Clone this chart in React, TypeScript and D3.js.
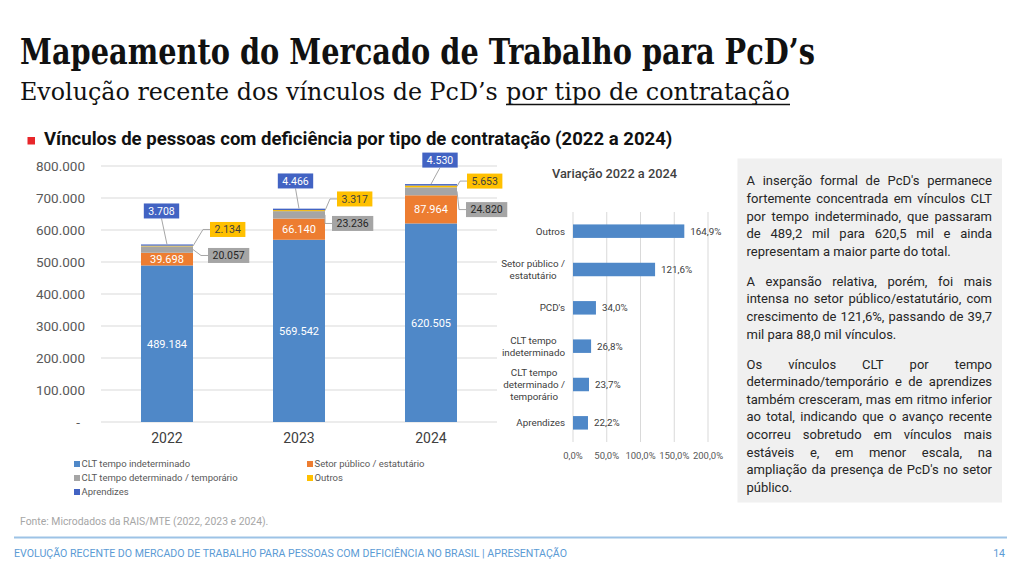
import React from 'react';
import * as d3 from 'd3';

// ---- data ----
const years = ['2022', '2023', '2024'];
const cltIndeterminado = [489184, 569542, 620505];
const setorPublico = [39698, 66140, 87964];
const cltDeterminado = [20057, 23236, 24820];
const outros = [2134, 3317, 5653];
const aprendizes = [3708, 4466, 4530];
const yTicks = [0, 100000, 200000, 300000, 400000, 500000, 600000, 700000, 800000];

const variationCategories = [
  ['Outros'],
  ['Setor público /', 'estatutário'],
  ["PCD's"],
  ['CLT tempo', 'indeterminado'],
  ['CLT tempo', 'determinado /', 'temporário'],
  ['Aprendizes'],
];
const variationValues = [164.9, 121.6, 34.0, 26.8, 23.7, 22.2];
const variationTicks = [0, 50, 100, 150, 200];

const panelParagraphs = [
  [
    "A inserção formal de PcD's permanece",
    'fortemente concentrada em vínculos CLT',
    'por tempo indeterminado, que passaram',
    'de 489,2 mil para 620,5 mil e ainda',
    'representam a maior parte do total.',
  ],
  [
    'A expansão relativa, porém, foi mais',
    'intensa no setor público/estatutário, com',
    'crescimento de 121,6%, passando de 39,7',
    'mil para 88,0 mil vínculos.',
  ],
  [
    'Os vínculos CLT por tempo',
    'determinado/temporário e de aprendizes',
    'também cresceram, mas em ritmo inferior',
    'ao total, indicando que o avanço recente',
    'ocorreu sobretudo em vínculos mais',
    'estáveis e, em menor escala, na',
    "ampliação da presença de PcD's no setor",
    'público.',
  ],
];

// ---- series definitions ----
const SERIES = [
  { key: 'cltIndet', name: 'CLT tempo indeterminado', values: cltIndeterminado, color: '#4F88C8' },
  { key: 'setor', name: 'Setor público / estatutário', values: setorPublico, color: '#ED7D31' },
  { key: 'cltDet', name: 'CLT tempo determinado / temporário', values: cltDeterminado, color: '#A5A5A5' },
  { key: 'outros', name: 'Outros', values: outros, color: '#FFC000' },
  { key: 'aprendizes', name: 'Aprendizes', values: aprendizes, color: '#4263C3' },
];

// callout box placement for the small segments, per year
const CALLOUTS = [
  { apr: [-5.5, -33.5], out: [17, -15], gray: [15, 11] },
  { apr: [-3.5, -27.7], out: [12, -9.7], gray: [7, 14.8] },
  { apr: [9, -24], out: [10, -3], gray: [9, 25.5] },
];

const FONT = 'Roboto, "Noto Sans", sans-serif';
const SERIF = '"DejaVu Serif", "Liberation Serif", serif';

const locale = d3.formatLocale({ decimal: ',', thousands: '.', grouping: [3], currency: ['R$', ''] });
const fmtInt = locale.format(',d');
const fmtPct = (v: number) => locale.format(',.1f')(v) + '%';

let measureCtx: CanvasRenderingContext2D | null = null;
function textWidth(text: string, font: string) {
  if (!measureCtx) measureCtx = document.createElement('canvas').getContext('2d');
  measureCtx!.font = font;
  return measureCtx!.measureText(text).width;
}

// font size that makes a string span the given width
function fitSize(text: string, font: (s: number) => string, width: number) {
  const w = textWidth(text, font(100));
  return w > 0 ? (100 * width) / w : 20;
}

function StackedChart() {
  const x = d3.scaleBand<string>().domain(years).range([101, 497]).paddingInner(0.606).paddingOuter(0.303);
  const y = d3.scaleLinear().domain([0, 800000]).range([422, 166]);
  const rows = years.map((yr, i) => {
    const r: any = { year: yr };
    SERIES.forEach((s) => (r[s.key] = s.values[i]));
    return r;
  });
  const stacked = d3.stack<any>().keys(SERIES.map((s) => s.key))(rows);
  const bw = x.bandwidth();
  const labelFont = `10.5px ${FONT}`;

  const callout = (text: string, left: number, cy: number, fill: string, color: string, key: string) => {
    const w = textWidth(text, labelFont) + 9;
    return (
      <g key={key}>
        <rect x={left} y={cy - 7.5} width={w} height={15} fill={fill} />
        <text x={left + w / 2} y={cy + 3.7} textAnchor="middle" fontSize={10.5} fontFamily={FONT} fill={color}>
          {text}
        </text>
      </g>
    );
  };

  return (
    <g>
      {yTicks.map((t) => (
        <g key={t}>
          <line x1={101} x2={497} y1={y(t)} y2={y(t)} stroke="#D9D9D9" strokeWidth={1} />
          <text
            x={t === 0 ? 80 : 85}
            y={y(t) + 4.8}
            textAnchor="end"
            fontSize={13.5}
            fontFamily={FONT}
            fill="#595959"
          >
            {t === 0 ? '-' : fmtInt(t)}
          </text>
        </g>
      ))}
      {stacked.map((layer, si) => (
        <g key={layer.key}>
          {layer.map((d, i) => (
            <rect
              key={i}
              x={x(years[i])}
              y={y(d[1])}
              width={bw}
              height={y(d[0]) - y(d[1])}
              fill={SERIES[si].color}
            />
          ))}
        </g>
      ))}
      {/* in-bar labels for the two large segments */}
      {[0, 1].map((si) =>
        stacked[si].map((d, i) => (
          <text
            key={`in-${si}-${i}`}
            x={x(years[i])! + bw / 2}
            y={(y(d[0]) + y(d[1])) / 2 + 4}
            textAnchor="middle"
            fontSize={11}
            fontFamily={FONT}
            fill="#FFFFFF"
          >
            {fmtInt(SERIES[si].values[i])}
          </text>
        ))
      )}
      {/* callouts for the thin segments */}
      {years.map((yr, i) => {
        const cx = x(yr)! + bw / 2;
        const right = x(yr)! + bw;
        const top = y(stacked[4][i][1]);
        const c = CALLOUTS[i];
        const aprText = fmtInt(aprendizes[i]);
        const aprW = textWidth(aprText, labelFont) + 9;
        const aprCx = cx + c.apr[0];
        const aprCy = top + c.apr[1];
        const outLeft = right + c.out[0];
        const outCy = top + c.out[1];
        const outMid = (y(stacked[3][i][0]) + y(stacked[3][i][1])) / 2;
        const grayLeft = right + c.gray[0];
        const grayCy = top + c.gray[1];
        const grayMid = (y(stacked[2][i][0]) + y(stacked[2][i][1])) / 2;
        return (
          <g key={`co-${yr}`}>
            <path
              d={`M${aprCx},${aprCy + 7.5}L${cx},${top}`}
              stroke="#A6A6A6"
              fill="none"
              strokeWidth={1}
            />
            <path
              d={`M${right},${outMid}L${outLeft - 7},${outCy}L${outLeft},${outCy}`}
              stroke="#A6A6A6"
              fill="none"
              strokeWidth={1}
            />
            <path
              d={`M${right},${grayMid}L${grayLeft - 7},${grayCy}L${grayLeft},${grayCy}`}
              stroke="#A6A6A6"
              fill="none"
              strokeWidth={1}
            />
            {callout(aprText, aprCx - aprW / 2, aprCy, '#4263C3', '#FFFFFF', 'a')}
            {callout(fmtInt(outros[i]), outLeft, outCy, '#FFC000', '#404040', 'o')}
            {callout(fmtInt(cltDeterminado[i]), grayLeft, grayCy, '#A5A5A5', '#262626', 'g')}
          </g>
        );
      })}
      {years.map((yr) => (
        <text
          key={`yr-${yr}`}
          x={x(yr)! + bw / 2}
          y={443}
          textAnchor="middle"
          fontSize={14}
          fontFamily={FONT}
          fill="#404040"
        >
          {yr}
        </text>
      ))}
      {/* legend */}
      {SERIES.map((s, i) => {
        const col = i % 2;
        const row = Math.floor(i / 2);
        const lx = col === 0 ? 74 : 307;
        const ly = 464 + row * 14;
        return (
          <g key={`lg-${s.key}`}>
            <rect x={lx} y={ly - 3} width={6} height={6} fill={s.color} />
            <text x={lx + 7.5} y={ly + 3.3} fontSize={9.5} fontFamily={FONT} fill="#595959">
              {s.name}
            </text>
          </g>
        );
      })}
    </g>
  );
}

function VariationChart() {
  const keys = variationCategories.map((c) => c.join(' '));
  const x = d3.scaleLinear().domain([0, 200]).range([573, 708]);
  const y = d3.scaleBand<string>().domain(keys).range([212, 442]).paddingInner(0.648).paddingOuter(0.324);
  const font = `9.8px ${FONT}`;
  return (
    <g>
      <text x={552} y={178} fontSize={12.8} fontWeight={500} fontFamily={FONT} fill="#404040">
        Variação 2022 a 2024
      </text>
      {variationTicks.map((t) => (
        <g key={t}>
          <line x1={x(t)} x2={x(t)} y1={212} y2={442} stroke="#D9D9D9" strokeWidth={1} />
          <text x={x(t)} y={458.5} textAnchor="middle" fontSize={9.5} fontFamily={FONT} fill="#595959">
            {fmtPct(t)}
          </text>
        </g>
      ))}
      {keys.map((k, i) => {
        const cy = y(k)! + y.bandwidth() / 2;
        const lines = variationCategories[i];
        const maxW = Math.max(...lines.map((l) => textWidth(l, font)));
        const lcx = 565 - maxW / 2;
        const lh = 12;
        const y0 = cy - ((lines.length - 1) * lh) / 2;
        return (
          <g key={k}>
            <rect
              x={x(0)}
              y={y(k)}
              width={x(variationValues[i]) - x(0)}
              height={y.bandwidth()}
              fill="#4F88C8"
            />
            <text
              x={x(variationValues[i]) + 6}
              y={cy + 3.5}
              fontSize={9.8}
              fontFamily={FONT}
              fill="#404040"
            >
              {fmtPct(variationValues[i])}
            </text>
            {lines.map((l, j) => (
              <text
                key={j}
                x={lcx}
                y={y0 + j * lh + 3.4}
                textAnchor="middle"
                fontSize={9.8}
                fontFamily={FONT}
                fill="#404040"
              >
                {l}
              </text>
            ))}
          </g>
        );
      })}
    </g>
  );
}

function TextPanel() {
  const left = 746.5;
  const right = 992;
  const fs = 13;
  const font = `${fs}px ${FONT}`;
  const lh = 17.6;
  const paraGap = 30;
  let cy = 180.7;
  const out: React.ReactNode[] = [];
  panelParagraphs.forEach((para, pi) => {
    para.forEach((line, li) => {
      const base = cy + 4.6;
      const isLast = li === para.length - 1;
      if (isLast) {
        out.push(
          <text key={`${pi}-${li}`} x={left} y={base} fontSize={fs} fontFamily={FONT} fill="#262626">
            {line}
          </text>
        );
      } else {
        const words = line.split(' ');
        const widths = words.map((w) => textWidth(w, font));
        const total = widths.reduce((a, b) => a + b, 0);
        const gap = (right - left - total) / (words.length - 1);
        let xx = left;
        words.forEach((w, wi) => {
          out.push(
            <text key={`${pi}-${li}-${wi}`} x={xx} y={base} fontSize={fs} fontFamily={FONT} fill="#262626">
              {w}
            </text>
          );
          xx += widths[wi] + gap;
        });
      }
      cy += isLast ? 0 : lh;
    });
    cy += paraGap;
  });
  return (
    <g>
      <rect x={737.5} y={158.5} width={264.5} height={344} fill="#F0F0F0" />
      {out}
    </g>
  );
}

const TITLE = 'Mapeamento do Mercado de Trabalho para PcD’s';
const SUBTITLE_A = 'Evolução recente dos vínculos de PcD’s';
const SUBTITLE_B = 'por tipo de contratação';
const CHART_TITLE = 'Vínculos de pessoas com deficiência por tipo de contratação (2022 a 2024)';

export default function App() {
  const subASize = fitSize(SUBTITLE_A, (s) => `400 ${s}px ${SERIF}`, 478);
  const subBSize = fitSize(SUBTITLE_B, (s) => `400 ${s}px ${SERIF}`, 284);
  const chartTitleSize = fitSize(CHART_TITLE, (s) => `700 ${s}px ${FONT}`, 629);
  return (
    <svg
      width={1024}
      height={574}
      viewBox="0 0 1024 574"
      style={{ position: 'absolute', left: 0, top: 0, background: '#FFFFFF' }}
    >
      <rect x={0} y={0} width={1024} height={574} fill="#FFFFFF" />
      {/* slide heading */}
      <text
        x={20}
        y={64}
        fontSize={34.5}
        fontWeight={700}
        fontFamily={SERIF}
        fill="#111111"
        textLength={795}
        lengthAdjust="spacingAndGlyphs"
      >
        {TITLE}
      </text>
      <text x={20} y={100} fontSize={subASize} fontFamily={SERIF} fill="#111111">
        {SUBTITLE_A}
      </text>
      <text x={506} y={100} fontSize={subBSize} fontFamily={SERIF} fill="#111111">
        {SUBTITLE_B}
      </text>
      <line x1={506} x2={790} y1={104.5} y2={104.5} stroke="#111111" strokeWidth={1.3} />

      {/* chart heading */}
      <rect x={27.5} y={137} width={7.5} height={7.5} fill="#E8262A" />
      <text x={44} y={145} fontSize={chartTitleSize} fontWeight={700} fontFamily={FONT} fill="#111111">
        {CHART_TITLE}
      </text>

      <StackedChart />
      <VariationChart />
      <TextPanel />

      <text x={20} y={524.5} fontSize={10.4} fontFamily={FONT} fill="#A6A6A6">
        Fonte: Microdados da RAIS/MTE (2022, 2023 e 2024).
      </text>

      {/* footer */}
      <line x1={14} x2={1007} y1={537.5} y2={537.5} stroke="#9DC3E6" strokeWidth={2} />
      <text
        x={14}
        y={557}
        fontSize={10.5}
        fontFamily={FONT}
        fill="#5B9BD5"
        textLength={553}
        lengthAdjust="spacingAndGlyphs"
      >
        EVOLUÇÃO RECENTE DO MERCADO DE TRABALHO PARA PESSOAS COM DEFICIÊNCIA NO BRASIL | APRESENTAÇÃO
      </text>
      <text x={1005} y={557} textAnchor="end" fontSize={10.5} fontFamily={FONT} fill="#5B9BD5">
        14
      </text>
    </svg>
  );
}
